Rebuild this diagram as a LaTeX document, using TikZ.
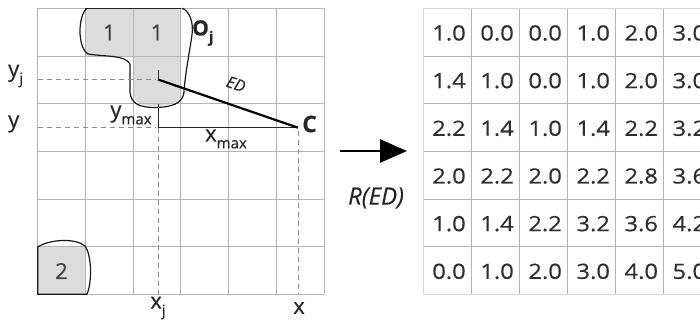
\documentclass[tikz,border=0pt]{standalone}
\usepackage{fontspec}
\setmainfont{Open Sans}[FakeBold=0.35]
\newfontfamily\heavyfont{Open Sans}[FakeBold=0.45]
\usetikzlibrary{arrows.meta}
\definecolor{gridc}{HTML}{B4B4B4}
\definecolor{cellg}{HTML}{DCDCDC}
\definecolor{txt}{HTML}{2E2E2E}
\definecolor{dashc}{HTML}{8A8A8A}
\newcommand{\lowsub}[1]{\raisebox{-0.32em}{\fontsize{15}{15}\selectfont #1}}
\tikzset{
  gridline/.style={draw=gridc, line width=0.9pt},
  blob/.style={draw=black!90, line width=1.2pt},
  guide/.style={draw=dashc, line width=0.9pt, dash pattern=on 5pt off 4pt},
  lbl/.style={inner sep=0pt, text=black!85, font=\heavyfont\fontsize{22}{22}\selectfont},
  cellnum/.style={inner sep=0pt, text=black!75, font=\heavyfont\fontsize{22}{22}\selectfont},
  tabnum/.style={inner sep=0pt, text=txt, font=\heavyfont\fontsize{21}{21}\selectfont},
}
\begin{document}
\begin{tikzpicture}[x=1pt,y=-1pt]
\useasboundingbox (0,0) rectangle (700,324);
% gray cells
\fill[cellg] (85.4,8.3) rectangle (180.8,56);
\fill[cellg] (133.1,56) rectangle (180.8,92) .. controls (180.8,104) and (170,106) .. (155,106) .. controls (140,106) and (133.1,102) .. (133.1,92) -- cycle;
\fill[cellg] (37.7,246.6) rectangle (85.4,294.3);
% grid
\foreach \i in {0,...,6} {
  \draw[gridline] ({37.7+47.72*\i},8.3) -- ({37.7+47.72*\i},294.3);
  \draw[gridline] (37.7,{8.3+47.67*\i}) -- (324,{8.3+47.67*\i});
}
% thick edges
\draw[black!85, line width=1.4pt] (85.4,8.3) -- (180.8,8.3);
% blob around O_j
\draw[blob] (87,8.3) .. controls (78,15) and (77,47) .. (88,54)
  .. controls (108,57) and (125,55) .. (130,64) -- (130,92)
  .. controls (131,104) and (140,107.5) .. (155,107.5)
  .. controls (170,107.5) and (183,104) .. (184,92)
  .. controls (185,75) and (189,55) .. (192,35)
  .. controls (194,20) and (188,10) .. (182,8.3);
% blob around 2
\draw[blob] (37.7,247) .. controls (50,239) and (76,238) .. (85,246)
  .. controls (92,256) and (92,282) .. (87,294.3) -- (37.7,294.3) -- cycle;
% cell numbers
\node[cellnum] (c1a) at (109.3,32.5) {1};
\node[cellnum] (c1b) at (157,32.5) {1};
\node[cellnum] (c2) at (61.5,271) {2};
% key points
\coordinate (J) at (158,79.5);
\coordinate (C) at (298,127.7);
\coordinate (K) at (158,127.7);
\coordinate (Ktop) at (158,104);
\coordinate (Jtick) at (158,70);
\coordinate (yjL) at (37.7,79.5);
\coordinate (yL) at (37.7,127.7);
\coordinate (yjR) at (155,79.5);
\coordinate (yR) at (155,127.7);
\coordinate (xjB) at (158,294.3);
\coordinate (xB) at (298,294.3);
\coordinate (Cd) at (298,131);
% guides
\draw[guide] (yjL) -- (yjR);
\draw[guide] (yL) -- (yR);
\draw[guide] (K) -- (xjB);
\draw[guide] (Cd) -- (xB);
\draw[black!80, line width=0.9pt] (Jtick) -- (J);
% legs
\draw[black!85, line width=0.9pt] (Ktop) -- (K) -- (C);
% ED line
\draw[black, line width=2.2pt] (J) -- (C);
% labels
\node[lbl, font=\fontsize{16}{16}\selectfont\itshape, rotate=-19] (ED) at (236,84) {ED};
\node[lbl, font=\fontsize{23}{23}\selectfont\bfseries, anchor=west] (Cl) at (302,124) {C};
\node[lbl, font=\fontsize{21}{21}\selectfont\bfseries, anchor=west] (Oj) at (192,33) {O\lowsub{j}};
\node[lbl, anchor=west] (yjl) at (8,76) {y\lowsub{j}};
\node[lbl, anchor=west] (yl) at (8,124) {y};
\node[lbl] (ymaxl) at (131,115) {y\lowsub{max}};
\node[lbl] (xmaxl) at (226,139) {x\lowsub{max}};
\node[lbl] (xjl) at (158,308) {x\lowsub{j}};
\node[lbl] (xl) at (299,308) {x};
% arrow
\coordinate (as) at (340,151);
\coordinate (ae) at (407,151);
\draw[black, line width=2.6pt, -{Triangle[length=27pt,width=23pt]}] (as) -- (ae);
\node[lbl, font=\fontsize{24}{24}\selectfont\itshape, text=black!85] (RED) at (376,198) {R(ED)};
% table
\begin{scope}
\clip (410,0) rectangle (700,324);
\foreach \i in {0,...,6} {
  \draw[gridline] ({423.2+48.07*\i},8.3) -- ({423.2+48.07*\i},294.3);
  \draw[gridline] (423.2,{8.3+47.67*\i}) -- (720,{8.3+47.67*\i});
}
\draw[draw=gridc!120!black, line width=1pt] (720,8.3) -- (423.2,8.3) -- (423.2,294.3) -- (720,294.3);
\foreach \row [count=\r from 0] in {
  {1.0,0.0,0.0,1.0,2.0,3.0},
  {1.4,1.0,0.0,1.0,2.0,3.0},
  {2.2,1.4,1.0,1.4,2.2,3.2},
  {2.0,2.2,2.0,2.2,2.8,3.6},
  {1.0,1.4,2.2,3.2,3.6,4.2},
  {0.0,1.0,2.0,3.0,4.0,5.0}} {
  \foreach \v [count=\c from 0] in \row {
    \node[tabnum] (t\r\c) at ({449+48.07*\c},{33+47.67*\r}) {\scalebox{1.13}[1]{\v}};
  }
}
\end{scope}
\end{tikzpicture}
\end{document}
